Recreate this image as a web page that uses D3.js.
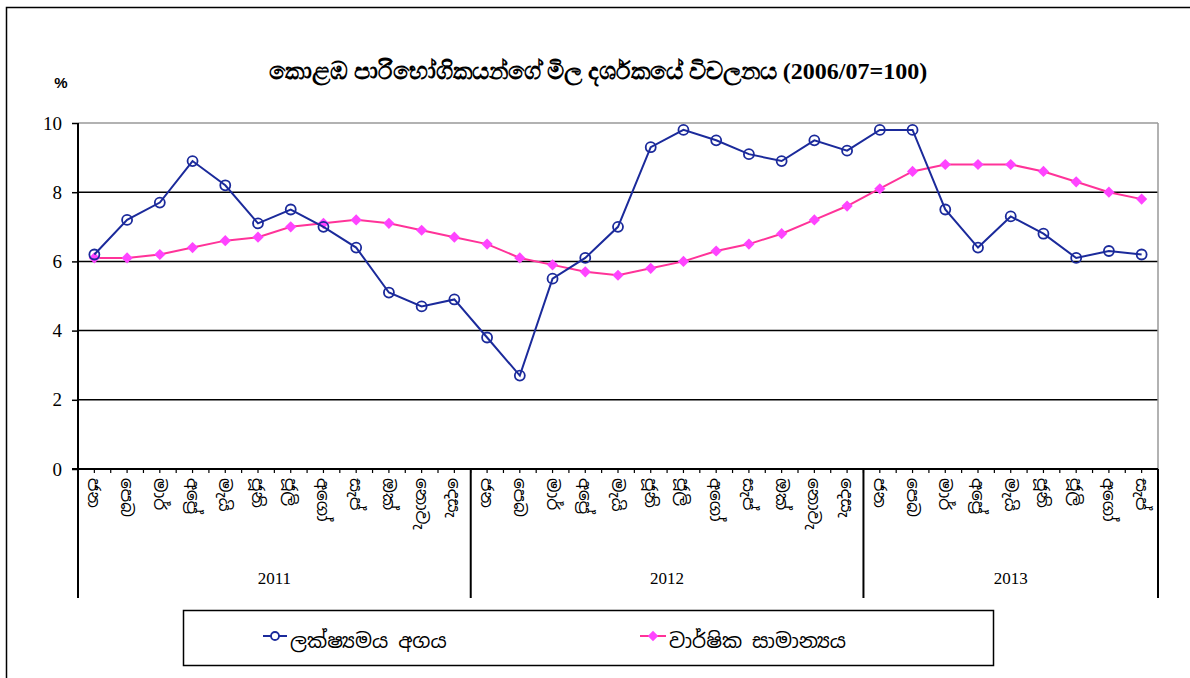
<!DOCTYPE html>
<html>
<head>
<meta charset="utf-8">
<script src="https://cdn.jsdelivr.net/npm/d3@7"></script>
<style>
  body { margin: 0; background: #fff; }
  text { font-family: "Liberation Serif", "Times New Roman", serif; }
</style>
</head>
<body>
<div id="chart"></div>
<script>
// DATA ------------------------------
const months = ["ජන", "පෙබ", "මාර්", "අප්‍රේ", "මැයි", "ජූනි", "ජූලි", "අගෝ", "සැප්", "ඔක්", "නොවැ", "දෙසැ"];
const years = ["2011", "2012", "2013"];
const monthsPerYear = [12, 12, 9];
const pointToPoint = [6.2, 7.2, 7.7, 8.9, 8.2, 7.1, 7.5, 7.0, 6.4, 5.1, 4.7, 4.9,
                      3.8, 2.7, 5.5, 6.1, 7.0, 9.3, 9.8, 9.5, 9.1, 8.9, 9.5, 9.2,
                      9.8, 9.8, 7.5, 6.4, 7.3, 6.8, 6.1, 6.3, 6.2];
const annualAvg = [6.1, 6.1, 6.2, 6.4, 6.6, 6.7, 7.0, 7.1, 7.2, 7.1, 6.9, 6.7,
                   6.5, 6.1, 5.9, 5.7, 5.6, 5.8, 6.0, 6.3, 6.5, 6.8, 7.2, 7.6,
                   8.1, 8.6, 8.8, 8.8, 8.8, 8.6, 8.3, 8.0, 7.8];
const yTicks = [0, 2, 4, 6, 8, 10];
const seriesNames = ["ලක්ෂ්‍යමය අගය", "වාර්ෂික සාමාන්‍යය"];
const title = "කොළඹ පාරිභෝගිකයන්ගේ මිල දර්ශකයේ විචලනය (2006/07=100)";

// build category list
let cats = [];
years.forEach((y, i) => {
  for (let m = 0; m < monthsPerYear[i]; m++) cats.push({key: y + "-" + m, month: months[m], year: y});
});

// CHART INIT ------------------------------
const W = 1190, H = 678;
const plot = {left: 78, right: 1158, top: 123, bottom: 469};
const blue = "#1b2a9b", pinkLine = "#ff3399", pinkMark = "#ff44ff";

let svg = d3.select("#chart").append("svg")
  .attr("width", W).attr("height", H);

// outer frame
svg.append("rect")
  .attr("x", 6.5).attr("y", 7.5)
  .attr("width", W + 10).attr("height", H + 10)
  .attr("fill", "none").attr("stroke", "#000").attr("stroke-width", 1.5);

let xScale = d3.scaleBand()
  .domain(cats.map(d => d.key))
  .range([plot.left, plot.right]);

let yScale = d3.scaleLinear().domain([0, 10]).range([plot.bottom, plot.top]);

// gridlines
svg.append("g")
  .selectAll("line")
  .data(yTicks.filter(d => d > 0))
  .join("line")
  .attr("x1", plot.left).attr("x2", plot.right)
  .attr("y1", d => yScale(d)).attr("y2", d => yScale(d))
  .attr("stroke", d => d === 10 ? "#999" : "#000")
  .attr("stroke-width", 1.5);

// right plot border
svg.append("line")
  .attr("x1", plot.right).attr("x2", plot.right)
  .attr("y1", plot.top).attr("y2", plot.bottom)
  .attr("stroke", "#999").attr("stroke-width", 1.5);

// y axis
let yAxis = d3.axisLeft(yScale).tickValues(yTicks).tickSize(6).tickPadding(10);
let yAxisGroup = svg.append("g")
  .attr("class", "y-axis axis")
  .attr("transform", "translate(" + plot.left + ",0)")
  .call(yAxis);
yAxisGroup.select(".domain").remove();
yAxisGroup.selectAll("line").attr("stroke", "#000").attr("stroke-width", 1.5);
yAxisGroup.selectAll("text")
  .attr("fill", "#000")
  .style("font-size", "19px")
  .style("font-family", "'Liberation Serif', serif");

// left axis line, extended down through label rows
svg.append("line")
  .attr("x1", plot.left).attr("x2", plot.left)
  .attr("y1", plot.top).attr("y2", 598)
  .attr("stroke", "#000").attr("stroke-width", 2);

// x axis line
svg.append("line")
  .attr("x1", plot.left - 6).attr("x2", plot.right)
  .attr("y1", plot.bottom).attr("y2", plot.bottom)
  .attr("stroke", "#000").attr("stroke-width", 2);

// small ticks every half band
let halfTicks = d3.range(1, cats.length * 2 + 1).map(i => plot.left + i * xScale.bandwidth() / 2);
svg.append("g").selectAll("line")
  .data(halfTicks)
  .join("line")
  .attr("x1", d => d).attr("x2", d => d)
  .attr("y1", plot.bottom).attr("y2", plot.bottom + 4)
  .attr("stroke", "#000").attr("stroke-width", 1.2);

// month labels (rotated)
svg.append("g").selectAll("text")
  .data(cats)
  .join("text")
  .attr("transform", d => "translate(" + (xScale(d.key) + xScale.bandwidth() / 2 - 6) + "," + (plot.bottom + 9) + ") rotate(90)")
  .attr("text-anchor", "start")
  .style("font-size", "17px")
  .style("font-family", "'Noto Sans Sinhala', 'Iskoola Pota', 'Noto Sans', serif")
  .text(d => d.month);

// year separators and labels
let yearStart = 0;
years.forEach((y, i) => {
  let x0 = xScale(cats[yearStart].key);
  let x1 = xScale(cats[yearStart + monthsPerYear[i] - 1].key) + xScale.bandwidth();
  svg.append("line")
    .attr("x1", x1).attr("x2", x1)
    .attr("y1", plot.bottom).attr("y2", 598)
    .attr("stroke", "#000").attr("stroke-width", 2);
  svg.append("text")
    .attr("x", (x0 + x1) / 2).attr("y", 584)
    .attr("text-anchor", "middle")
    .style("font-size", "17px")
    .text(y);
  yearStart += monthsPerYear[i];
});

// LINES ------------------------------
let line = d3.line()
  .x((d, i) => xScale(cats[i].key) + xScale.bandwidth() / 2)
  .y(d => yScale(d));

svg.append("path")
  .datum(annualAvg)
  .attr("d", line)
  .attr("fill", "none").attr("stroke", pinkLine).attr("stroke-width", 2);

svg.append("g").selectAll("path")
  .data(annualAvg)
  .join("path")
  .attr("d", d3.symbol().type(d3.symbolDiamond2).size(80))
  .attr("transform", (d, i) => "translate(" + (xScale(cats[i].key) + xScale.bandwidth() / 2) + "," + yScale(d) + ")")
  .attr("fill", pinkMark);

svg.append("path")
  .datum(pointToPoint)
  .attr("d", line)
  .attr("fill", "none").attr("stroke", blue).attr("stroke-width", 2);

svg.append("g").selectAll("circle")
  .data(pointToPoint)
  .join("circle")
  .attr("cx", (d, i) => xScale(cats[i].key) + xScale.bandwidth() / 2)
  .attr("cy", d => yScale(d))
  .attr("r", 5)
  .attr("fill", "none").attr("stroke", blue).attr("stroke-width", 1.8);

// TITLE ------------------------------
svg.append("text")
  .attr("x", 598).attr("y", 79)
  .attr("text-anchor", "middle")
  .style("font-size", "24px").attr("font-weight", "bold")
  .text(title);

svg.append("text")
  .attr("x", 61).attr("y", 88)
  .attr("text-anchor", "middle")
  .style("font-size", "15px").attr("font-weight", "bold")
  .style("font-family", "'Liberation Sans', Arial, sans-serif")
  .text("%");

// LEGEND ------------------------------
let legend = svg.append("g");
legend.append("rect")
  .attr("x", 183.5).attr("y", 610.5).attr("width", 810).attr("height", 55)
  .attr("fill", "#fff").attr("stroke", "#000").attr("stroke-width", 1.5);

let lg1 = legend.append("g").attr("transform", "translate(263,636)");
lg1.append("line").attr("x1", 0).attr("x2", 24).attr("stroke", blue).attr("stroke-width", 2);
lg1.append("circle").attr("cx", 12).attr("r", 4).attr("fill", "#fff").attr("stroke", blue).attr("stroke-width", 1.8);
lg1.append("text").attr("x", 27).attr("y", 12)
  .style("font-size", "20px")
  .style("font-family", "'Noto Sans Sinhala', 'Noto Sans', serif").text(seriesNames[0]);

let lg2 = legend.append("g").attr("transform", "translate(640,636)");
lg2.append("line").attr("x1", 0).attr("x2", 26).attr("stroke", pinkLine).attr("stroke-width", 2);
lg2.append("path").attr("transform", "translate(13,0)")
  .attr("d", d3.symbol().type(d3.symbolDiamond2).size(70)).attr("fill", pinkMark);
lg2.append("text").attr("x", 29).attr("y", 12)
  .style("font-size", "20px")
  .style("font-family", "'Noto Sans Sinhala', 'Noto Sans', serif").text(seriesNames[1]);
</script>
</body>
</html>
